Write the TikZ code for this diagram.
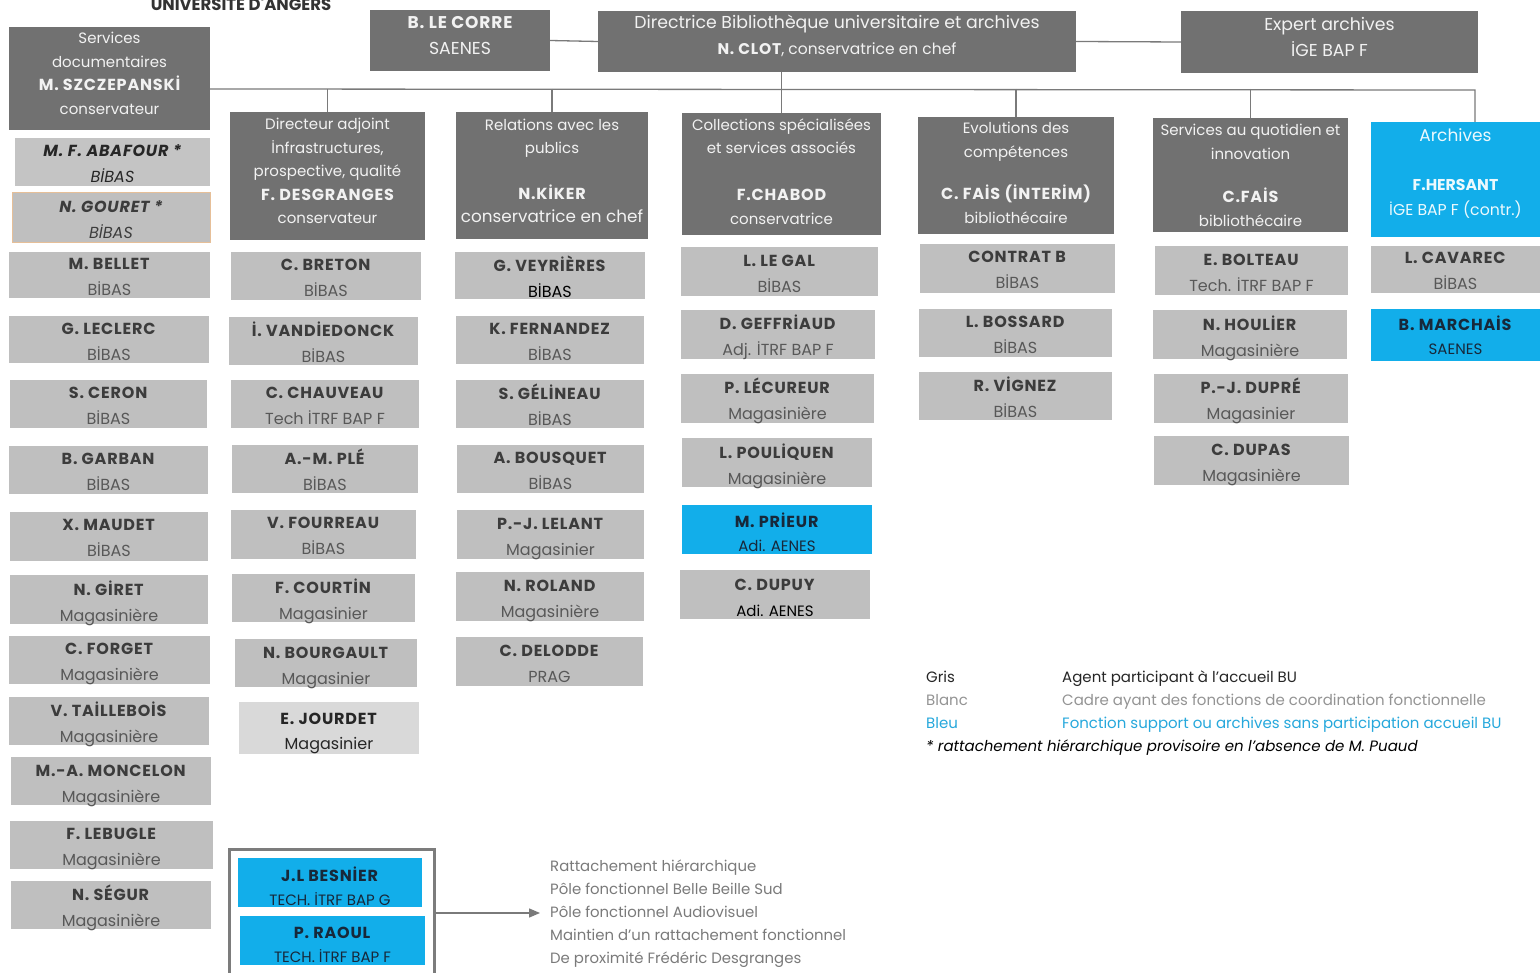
\documentclass[tikz,border=0pt]{standalone}
\usepackage{fontspec}
\setmainfont{Poppins}[BoldFeatures={LetterSpace=5}, BoldItalicFeatures={LetterSpace=5}]
\newfontfamily\plainpop{Poppins}
\usetikzlibrary{arrows.meta}
\definecolor{hdr}{HTML}{717171}
\definecolor{lbox}{HTML}{BFBFBF}
\definecolor{lboxb}{HTML}{D9D9D9}
\definecolor{bluebox}{HTML}{12AEEA}
\definecolor{nametxt}{HTML}{3C3C3C}
\definecolor{roletxt}{HTML}{585858}
\definecolor{hdrtxt}{HTML}{F2F2F2}
\definecolor{linec}{HTML}{7A7A7A}
\definecolor{legblue}{HTML}{26A8DC}
\definecolor{navy}{HTML}{17283A}
\definecolor{framec}{HTML}{7C7C7C}
\definecolor{orangeb}{HTML}{E6BF98}

% #1 name, #2 x1, #3 y1, #4 x2, #5 y2, #6 style, #7 text, #8 text offset (down)
\newcommand\orgbox[8]{%
  \node[#6, minimum width={#4-#2}, minimum height={#5-#3}] (#1) at ({(#2+#4)/2},{(#3+#5)/2}) {};
  \node[#6 text] (#1t) at ([yshift={-(#8)}]#1.center) {#7};}
\newcommand\twoline[2]{\textbf{#1}\\\textcolor{roletxt}{#2}}
\newcommand\blueline[2]{\textbf{#1}\\{\fontsize{15}{24}\selectfont #2}}
\newcommand\hname[1]{{\fontsize{16}{23.5}\selectfont\bfseries #1}}

\tikzset{
  hbox/.style={fill=hdr, draw=none, inner sep=0pt},
  hbox text/.style={text=hdrtxt, inner sep=0pt, align=center, font=\fontsize{15}{23.5}\selectfont},
  hbig/.style={fill=hdr, draw=none, inner sep=0pt},
  hbig text/.style={text=hdrtxt, inner sep=0pt, align=center, font=\fontsize{17.3}{26}\selectfont},
  pbox/.style={fill=lbox, draw=none, inner sep=0pt},
  pbox text/.style={text=nametxt, inner sep=0pt, align=center, font=\fontsize{16}{26}\selectfont},
  pboxo/.style={fill=lbox, draw=orangeb, line width=1pt, inner sep=0pt},
  pboxo text/.style={text=nametxt, inner sep=0pt, align=center, font=\fontsize{16}{26}\selectfont\itshape},
  pboxi/.style={fill=lbox!92!white, draw=none, inner sep=0pt},
  pboxi text/.style={text=black!85, inner sep=0pt, align=center, font=\fontsize{16}{26}\selectfont\itshape},
  pboxl/.style={fill=lboxb, draw=none, inner sep=0pt},
  pboxl text/.style={text=black!85, inner sep=0pt, align=center, font=\fontsize{16}{25}\selectfont},
  bbox/.style={fill=bluebox, draw=none, inner sep=0pt},
  bbox text/.style={text=navy, inner sep=0pt, align=center, font=\fontsize{16}{24}\selectfont},
  bhead/.style={fill=bluebox, draw=none, inner sep=0pt},
  bhead text/.style={text=white!92!bluebox, inner sep=0pt, align=center, font=\fontsize{15.7}{24.5}\selectfont},
  frame/.style={draw=framec, line width=3pt, fill=none, inner sep=0pt},
  frame text/.style={inner sep=0pt},
  conn/.style={draw=linec, line width=1.3pt},
  legtxt/.style={anchor=base west, inner sep=0pt, font=\fontsize{15}{18}\selectfont},
}

\begin{document}
\begin{tikzpicture}[x=1pt,y=-1pt]
\useasboundingbox[fill=white] (0,0) rectangle (1540,973);

\node[text=black!80, font=\fontsize{16.5}{18}\selectfont\plainpop\bfseries] (univ) at (241,4) {UNIVERSITE D'ANGERS};

% top row
\orgbox{lecorre}{370}{10}{550}{71}{hbig}{{\fontsize{17}{26}\selectfont\bfseries B. LE CORRE}\\SAENES}{-4.5}
\orgbox{dir}{598}{11}{1076}{72}{hbig}{Directrice Bibliothèque universitaire et archives\\{\fontsize{15.5}{26}\selectfont\textbf{N. CLOT}, conservatrice en chef}}{-5.5}
\orgbox{expert}{1181}{11}{1478}{73}{hbig}{Expert archives\\İGE BAP F}{-5.5}
\orgbox{sd}{9}{27}{210}{130}{hbox}{Services\\documentaires\\\hname{M. SZCZEPANSKİ}\\conservateur}{-5}

% second row headers
\orgbox{da}{230}{112}{425}{240}{hbox}{Directeur adjoint\\İnfrastructures,\\prospective, qualité\\\hname{F. DESGRANGES}\\conservateur}{-5}
\orgbox{rel}{456}{112}{648}{239}{hbox}{Relations avec les\\publics\\[22pt]\hname{N.KİKER}\\{\fontsize{16.8}{23.5}\selectfont conservatrice en chef}}{-4.5}
\orgbox{col}{682}{113}{881}{235}{hbox}{Collections spécialisées\\et services associés\\[23.5pt]\hname{F.CHABOD}\\conservatrice}{-2.5}
\orgbox{evo}{918}{117}{1114}{234}{hbox}{Evolutions des\\compétences\\[19pt]\hname{C. FAİS (İNTERİM)}\\bibliothécaire}{-2.5}
\orgbox{sq}{1153}{118}{1348}{232}{hbox}{Services au quotidien et\\innovation\\[20pt]\hname{C.FAİS}\\bibliothécaire}{0.5}
\orgbox{arch}{1371}{122}{1540}{237}{bhead}{{\fontsize{17}{24.5}\selectfont Archives}\\[24.5pt]{\plainpop\bfseries F.HERSANT}\\İGE BAP F (contr.)}{-6}

% connectors
\coordinate (busL) at (210,89);
\coordinate (busR) at (1475,90);
\draw[conn] (lecorre.east) -- (dir.west);
\draw[conn] (dir.east) -- (expert.west);
\draw[conn] (sd.east |- busL) -- (busR) -- (busR |- arch.north);
\draw[conn] (da.north |- busL) -- (da.north);
\draw[conn] (rel.north |- busL) -- (rel.north);
\draw[conn] (col.north |- dir.south) -- (col.north);
\draw[conn] (evo.north |- busL) -- (evo.north);
\draw[conn] (sq.north |- busL) -- (sq.north);

% column 1
\orgbox{abafour}{15}{138}{210}{186}{pboxi}{\textbf{M. F. ABAFOUR *}\\BİBAS}{1.5}
\orgbox{gouret}{12}{193}{210}{243}{pboxo}{\textbf{N. GOURET *}\\BİBAS}{1.5}
\orgbox{bellet}{9}{252}{210}{298}{pbox}{\twoline{M. BELLET}{BİBAS}}{1.5}
\orgbox{leclerc}{9}{316}{209}{363}{pbox}{\twoline{G. LECLERC}{BİBAS}}{2}
\orgbox{ceron}{10}{380}{207}{428}{pbox}{\twoline{S. CERON}{BİBAS}}{2}
\orgbox{garban}{9}{446}{208}{494}{pbox}{\twoline{B. GARBAN}{BİBAS}}{1.5}
\orgbox{maudet}{10}{512}{208}{561}{pbox}{\twoline{X. MAUDET}{BİBAS}}{1.5}
\orgbox{giret}{10}{575}{208}{624}{pbox}{\twoline{N. GİRET}{Magasinière}}{3.5}
\orgbox{forget}{9}{636}{210}{684}{pbox}{\twoline{C. FORGET}{Magasinière}}{4}
\orgbox{taillebois}{9}{697}{209}{745}{pbox}{\twoline{V. TAİLLEBOİS}{Magasinière}}{3}
\orgbox{moncelon}{11}{757}{211}{805}{pbox}{\twoline{M.-A. MONCELON}{Magasinière}}{5}
\orgbox{lebugle}{10}{821}{213}{869}{pbox}{\twoline{F. LEBUGLE}{Magasinière}}{4}
\orgbox{segur}{11}{881}{211}{929}{pbox}{\twoline{N. SÉGUR}{Magasinière}}{3}

% column 2
\orgbox{breton}{231}{252}{421}{300}{pbox}{\twoline{C. BRETON}{BİBAS}}{1.5}
\orgbox{vandiedonck}{229}{317}{418}{365}{pbox}{\twoline{İ. VANDİEDONCK}{BİBAS}}{1}
\orgbox{chauveau}{231}{380}{419}{428}{pbox}{\twoline{C. CHAUVEAU}{Tech İTRF BAP F}}{1.5}
\orgbox{ple}{232}{445}{418}{493}{pbox}{\twoline{A.-M. PLÉ}{BİBAS}}{0.5}
\orgbox{fourreau}{231}{510}{416}{559}{pbox}{\twoline{V. FOURREAU}{BİBAS}}{1.5}
\orgbox{courtin}{232}{574}{415}{622}{pbox}{\twoline{F. COURTİN}{Magasinier}}{3.5}
\orgbox{bourgault}{235}{639}{417}{687}{pbox}{\twoline{N. BOURGAULT}{Magasinier}}{4.5}
\orgbox{jourdet}{239}{702}{419}{754}{pboxl}{\textbf{E. JOURDET}\\Magasinier}{5}

% column 3
\orgbox{veyrieres}{455}{252}{645}{299}{pbox}{\textbf{G. VEYRİÈRES}\\\textcolor{black}{BİBAS}}{1}
\orgbox{fernandez}{456}{316}{644}{364}{pbox}{\twoline{K. FERNANDEZ}{BİBAS}}{1.5}
\orgbox{gelineau}{456}{380}{644}{428}{pbox}{\twoline{S. GÉLİNEAU}{BİBAS}}{0.5}
\orgbox{bousquet}{457}{445}{644}{493}{pbox}{\twoline{A. BOUSQUET}{BİBAS}}{1.5}
\orgbox{lelant}{457}{510}{644}{559}{pbox}{\twoline{P.-J. LELANT}{Magasinier}}{4.5}
\orgbox{roland}{456}{572}{644}{621}{pbox}{\twoline{N. ROLAND}{Magasinière}}{4.5}
\orgbox{delodde}{456}{637}{643}{686}{pbox}{\twoline{C. DELODDE}{PRAG}}{2}

% column 4
\orgbox{legal}{681}{247}{878}{296}{pbox}{\twoline{L. LE GAL}{BİBAS}}{2}
\orgbox{geffriaud}{681}{310}{875}{359}{pbox}{\twoline{D. GEFFRİAUD}{Adj. İTRF BAP F}}{3}
\orgbox{lecureur}{681}{374}{874}{423}{pbox}{\twoline{P. LÉCUREUR}{Magasinière}}{2.5}
\orgbox{pouliquen}{682}{438}{872}{487}{pbox}{\twoline{L. POULİQUEN}{Magasinière}}{3.5}
\orgbox{prieur}{682}{505}{872}{554}{bbox}{\blueline{M. PRİEUR}{Adi. AENES}}{2.5}
\orgbox{dupuy}{680}{570}{870}{619}{pbox}{\textbf{C. DUPUY}\\{\fontsize{15}{24}\selectfont\color{black}Adi. AENES}}{3}

% column 5
\orgbox{contrat}{920}{244}{1115}{293}{pbox}{\twoline{CONTRAT B}{BİBAS}}{1.5}
\orgbox{bossard}{919}{309}{1112}{357}{pbox}{\twoline{L. BOSSARD}{BİBAS}}{2}
\orgbox{vignez}{919}{372}{1112}{420}{pbox}{\twoline{R. VİGNEZ}{BİBAS}}{1.5}

% column 6
\orgbox{bolteau}{1155}{246}{1348}{295}{pbox}{\twoline{E. BOLTEAU}{Tech. İTRF BAP F}}{2}
\orgbox{houlier}{1153}{310}{1347}{359}{pbox}{\twoline{N. HOULİER}{Magasinière}}{4}
\orgbox{dupre}{1154}{374}{1348}{423}{pbox}{\twoline{P.-J. DUPRÉ}{Magasinier}}{2.5}
\orgbox{dupas}{1154}{436}{1349}{485}{pbox}{\twoline{C. DUPAS}{Magasinière}}{4.5}

% column 7
\orgbox{cavarec}{1371}{246}{1540}{293}{pbox}{\twoline{L. CAVAREC}{BİBAS}}{1}
\orgbox{marchais}{1371}{309}{1540}{361}{bbox}{\blueline{B. MARCHAİS}{SAENES}}{0.5}

% bottom group
\orgbox{group}{229}{849}{434}{995}{frame}{}{0}
\orgbox{besnier}{238}{858}{422}{907}{bbox}{\blueline{J.L BESNİER}{TECH. İTRF BAP G}}{3.5}
\orgbox{raoul}{240}{916}{425}{965}{bbox}{\blueline{P. RAOUL}{TECH. İTRF BAP F}}{4}

\node[anchor=west, inner sep=0pt, align=left, text=black!52, font=\fontsize{14.9}{23}\selectfont] (list) at (550,914)
  {Rattachement hiérarchique\\Pôle fonctionnel Belle Beille Sud\\Pôle fonctionnel Audiovisuel\\Maintien d'un rattachement fonctionnel\\De proximité Frédéric Desgranges};
\draw[conn, -{Triangle[length=11pt,width=9pt]}, shorten >=10pt] (group.east |- 0,913) -- (list.west |- 0,913);

% legend
\node[legtxt, text=black!85] (lgA) at (926,682.5) {Gris};
\node[legtxt, text=black!85] (lgAt) at (1062,682.5) {Agent participant à l'accueil BU};
\node[legtxt, text=black!42] (lgB) at (926,705.5) {Blanc};
\node[legtxt, text=black!42] (lgBt) at (1062,705.5) {Cadre ayant des fonctions de coordination fonctionnelle};
\node[legtxt, text=legblue] (lgC) at (926,728.5) {Bleu};
\node[legtxt, text=legblue] (lgCt) at (1062,728.5) {Fonction support ou archives sans participation accueil BU};
\node[legtxt, text=black, font=\fontsize{15}{18}\selectfont\itshape] (lgD) at (926,751.5) {* rattachement hiérarchique provisoire en l'absence de M. Puaud};
\end{tikzpicture}
\end{document}
